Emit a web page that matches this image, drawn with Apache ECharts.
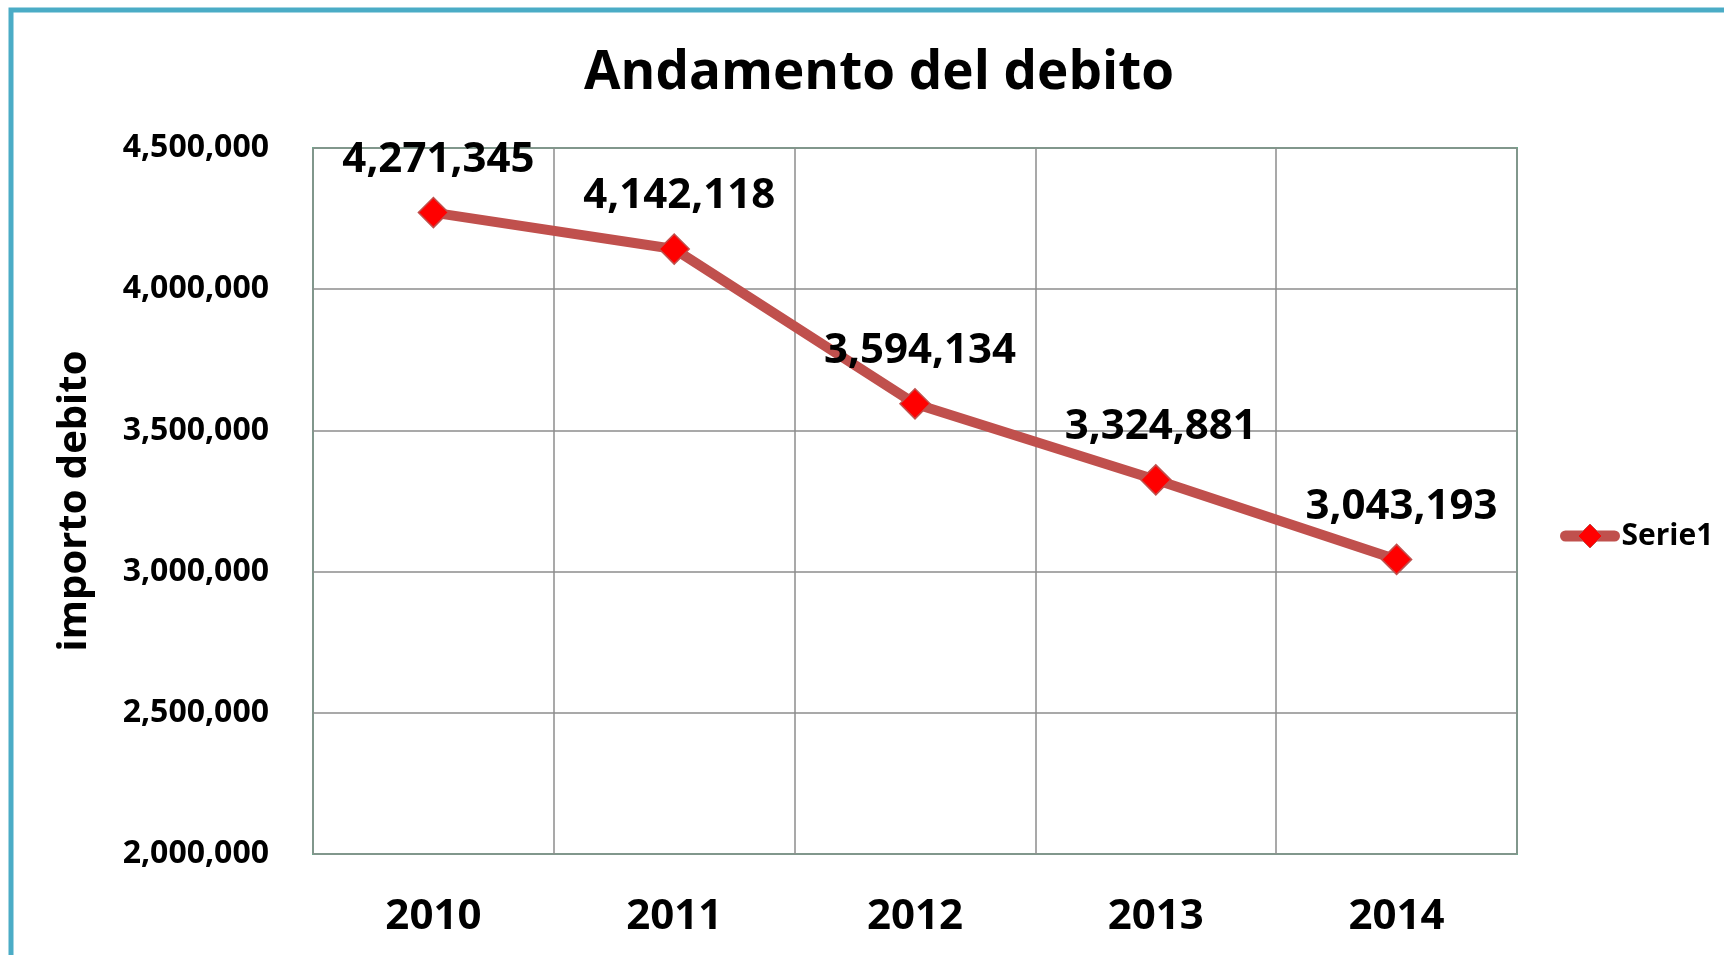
<!DOCTYPE html>
<html>
<head>
<meta charset="utf-8">
<script src="https://cdn.jsdelivr.net/npm/echarts@6/dist/echarts.min.js"></script>
<style>
  html, body { margin: 0; padding: 0; background: #fff; }
  #main { width: 1724px; height: 955px; }
</style>
</head>
<body>
<div id="main"></div>
<script>
var anni = ['2010', '2011', '2012', '2013', '2014'];
var debito = [4271345, 4142118, 3594134, 3324881, 3043193];
var yMin = 2000000;
var yMax = 4500000;
var yStep = 500000;

var font = '"Open Sans", "Noto Sans", sans-serif';

var myChart = echarts.init(document.getElementById('main'));

// formato con virgole
function fmt(v) {
    return String(v).replace(/\B(?=(\d{3})+(?!\d))/g, ',');
}

var option = {
    backgroundColor: '#fff',
    textStyle: { fontFamily: font },
    title: {
        text: 'Andamento del debito',
        left: 874,
        textAlign: 'center',
        top: 42,
        textStyle: { fontSize: 53, fontWeight: 'bold', color: '#000', fontFamily: font }
    },
    graphic: [{
        type: 'rect',
        shape: { x: 11, y: 10, width: 1800, height: 1100 },
        style: { fill: 'none', stroke: '#4BACC6', lineWidth: 5 },
        silent: true
    }],
    legend: {
        data: ['Serie1'],
        left: 1555,
        top: 516,
        itemWidth: 49,
        itemHeight: 30,
        itemGap: 4,
        lineStyle: { width: 11, color: '#C0504D', cap: 'round' },
        itemStyle: { color: '#FF0000', borderColor: '#C0504D', borderWidth: 1 },
        textStyle: { fontSize: 30, fontWeight: 'bold', color: '#000', fontFamily: font, padding: [0, 0, 0, 2] }
    },
    grid: {
        left: 313,
        top: 148,
        right: 207,
        bottom: 101,
        show: true,
        borderColor: '#5fb88c',
        borderWidth: 2
    },
    xAxis: {
        type: 'category',
        data: anni,
        boundaryGap: true,
        axisLine: { show: false },
        axisTick: { show: false },
        splitLine: { show: true, interval: 0, lineStyle: { color: '#8c8c8c', width: 1.5 } },
        axisLabel: { fontSize: 42, fontWeight: 'bold', color: '#000', margin: 42, fontFamily: font }
    },
    yAxis: {
        type: 'value',
        min: yMin,
        max: yMax,
        interval: yStep,
        name: 'importo debito',
        nameLocation: 'middle',
        nameGap: 218,
        nameTextStyle: { fontSize: 40, fontWeight: 'bold', color: '#000', fontFamily: font },
        axisLine: { show: false },
        axisTick: { show: false },
        splitLine: { lineStyle: { color: '#8c8c8c', width: 1.5 } },
        axisLabel: {
            fontSize: 32, fontWeight: 'bold', color: '#000', margin: 44, fontFamily: font,
            formatter: function (v) { return fmt(v); }
        }
    },
    series: [{
        name: 'Serie1',
        type: 'line',
        data: debito,
        symbol: 'diamond',
        symbolSize: 30,
        lineStyle: { color: '#C0504D', width: 10 },
        itemStyle: { color: '#FF0000', borderColor: '#C0504D', borderWidth: 1.5 },
        label: {
            show: true,
            position: 'top',
            distance: 16,
            offset: [5, 0],
            fontSize: 42,
            fontWeight: 'bold',
            color: '#000',
            fontFamily: font,
            formatter: function (p) { return fmt(p.value); }
        },
        z: 5
    }]
};

myChart.setOption(option);
</script>
</body>
</html>
